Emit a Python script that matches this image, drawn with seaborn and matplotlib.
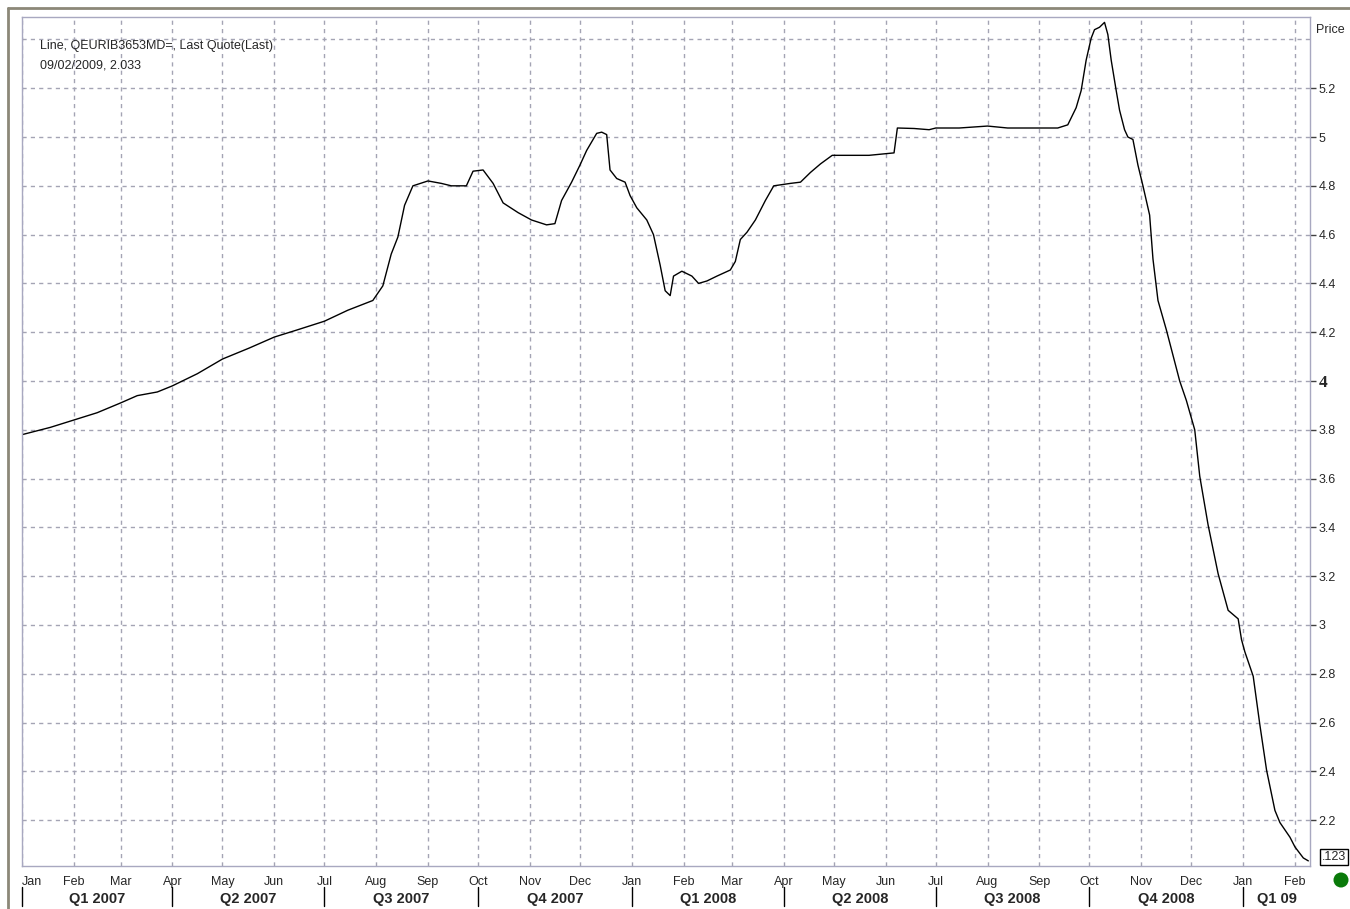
import matplotlib
matplotlib.use("Agg")
import matplotlib.pyplot as plt
import matplotlib.dates as mdates
from matplotlib.patches import Ellipse
from matplotlib.lines import Line2D
import seaborn as sns
import pandas as pd
import numpy as np

dates = [
    "2007-01-01", "2007-01-18", "2007-02-01", "2007-02-15", "2007-03-01", "2007-03-11",
    "2007-03-23", "2007-04-01", "2007-04-16", "2007-05-01", "2007-05-17", "2007-06-01",
    "2007-06-15", "2007-07-01", "2007-07-15", "2007-07-30", "2007-08-05", "2007-08-10",
    "2007-08-14", "2007-08-18", "2007-08-23", "2007-09-01", "2007-09-09", "2007-09-15",
    "2007-09-24", "2007-09-28", "2007-10-04", "2007-10-10", "2007-10-16", "2007-10-25",
    "2007-11-02", "2007-11-11", "2007-11-16", "2007-11-20", "2007-11-26", "2007-12-01",
    "2007-12-05", "2007-12-11", "2007-12-14", "2007-12-17", "2007-12-19", "2007-12-23",
    "2007-12-28", "2007-12-31", "2008-01-04", "2008-01-10", "2008-01-14", "2008-01-18",
    "2008-01-21", "2008-01-24", "2008-01-26", "2008-01-31", "2008-02-06", "2008-02-10",
    "2008-02-15", "2008-02-21", "2008-02-29", "2008-03-03", "2008-03-06", "2008-03-10",
    "2008-03-15", "2008-03-21", "2008-03-26", "2008-04-05", "2008-04-11", "2008-04-17",
    "2008-04-23", "2008-04-30", "2008-05-10", "2008-05-22", "2008-06-06", "2008-06-08",
    "2008-06-18", "2008-06-27", "2008-07-01", "2008-07-15", "2008-08-01", "2008-08-13",
    "2008-09-01", "2008-09-12", "2008-09-18", "2008-09-23", "2008-09-26", "2008-09-29",
    "2008-10-02", "2008-10-04", "2008-10-07", "2008-10-10", "2008-10-12", "2008-10-14",
    "2008-10-17", "2008-10-19", "2008-10-22", "2008-10-24", "2008-10-27", "2008-10-30",
    "2008-11-02", "2008-11-06", "2008-11-08", "2008-11-11", "2008-11-16", "2008-11-24",
    "2008-11-28", "2008-12-03", "2008-12-06", "2008-12-11", "2008-12-17", "2008-12-23",
    "2008-12-29", "2008-12-31", "2009-01-02", "2009-01-07", "2009-01-11", "2009-01-15",
    "2009-01-20", "2009-01-23", "2009-01-29", "2009-02-01", "2009-02-06", "2009-02-09",
]
prices = [
    3.78, 3.81, 3.84, 3.87, 3.91, 3.94,
    3.955, 3.98, 4.03, 4.09, 4.135, 4.18,
    4.21, 4.245, 4.29, 4.33, 4.39, 4.52,
    4.59, 4.72, 4.80, 4.82, 4.81, 4.80,
    4.80, 4.86, 4.865, 4.81, 4.73, 4.69,
    4.66, 4.64, 4.645, 4.74, 4.815, 4.885,
    4.945, 5.015, 5.02, 5.01, 4.865, 4.83,
    4.815, 4.76, 4.71, 4.66, 4.60, 4.475,
    4.37, 4.35, 4.43, 4.45, 4.43, 4.40,
    4.41, 4.43, 4.455, 4.49, 4.58, 4.61,
    4.66, 4.74, 4.80, 4.81, 4.815, 4.855,
    4.89, 4.925, 4.925, 4.925, 4.935, 5.037,
    5.035, 5.03, 5.037, 5.037, 5.045, 5.037,
    5.037, 5.037, 5.05, 5.12, 5.19, 5.315,
    5.405, 5.44, 5.45, 5.47, 5.42, 5.315,
    5.19, 5.11, 5.03, 5.0, 4.99, 4.885,
    4.80, 4.68, 4.50, 4.33, 4.21, 4.00,
    3.92, 3.80, 3.61, 3.41, 3.21, 3.06,
    3.025, 2.94, 2.89, 2.79, 2.59, 2.405,
    2.24, 2.19, 2.13, 2.09, 2.045, 2.033,
]

month_ticks = pd.date_range("2007-01-01", "2009-02-01", freq="MS")
month_labels = [d.strftime("%b") for d in month_ticks]
y_ticks = [2.2, 2.4, 2.6, 2.8, 3.0, 3.2, 3.4, 3.6, 3.8, 4.0, 4.2, 4.4, 4.6, 4.8, 5.0, 5.2, 5.4]
y_labels = ["2.2", "2.4", "2.6", "2.8", "3", "3.2", "3.4", "3.6", "3.8", "4",
            "4.2", "4.4", "4.6", "4.8", "5", "5.2", ""]
quarter_starts = ["2007-01-01", "2007-04-01", "2007-07-01", "2007-10-01", "2008-01-01",
                  "2008-04-01", "2008-07-01", "2008-10-01", "2009-01-01"]
quarter_labels = ["Q1 2007", "Q2 2007", "Q3 2007", "Q4 2007", "Q1 2008",
                  "Q2 2008", "Q3 2008", "Q4 2008", "Q1 09"]

df = pd.DataFrame({"date": pd.to_datetime(dates), "price": prices})

sns.set_theme(style="white")
plt.rcParams["font.family"] = ["Liberation Sans", "DejaVu Sans"]

fig = plt.figure(figsize=(13.5, 9.09), dpi=100)
W, H = 1350, 909
ax = fig.add_axes([22 / W, 1 - 866 / H, (1310 - 22) / W, (866 - 17) / H])

sns.lineplot(data=df, x="date", y="price", color="black", linewidth=1.0, ax=ax)

xmin = pd.Timestamp("2007-01-01")
xmax = pd.Timestamp("2009-02-10")
ax.set_xlim(xmin, xmax)
ax.set_ylim(2.012, 5.492)

grid_kw = dict(color="#a4a4b4", linewidth=1.0, linestyle=(0, (3, 3)))
ax.set_xticks(month_ticks)
ax.set_xticklabels(month_labels, fontsize=9)
ax.set_yticks(y_ticks)
ax.set_yticklabels(y_labels, fontsize=9)
ax.grid(True, **grid_kw)
ax.yaxis.tick_right()
ax.tick_params(axis="y", which="both", direction="out", length=4, width=1, color="#404040", pad=2)
ax.tick_params(axis="x", which="both", direction="out", length=3, width=1, color="#707070", pad=4)
ax.yaxis.get_major_ticks()[-1].tick2line.set_visible(False)
ax.set_xlabel("")
ax.set_ylabel("")
for lab in ax.get_xticklabels()[:1]:
    lab.set_ha("left")
for lab in ax.get_yticklabels():
    if lab.get_text() == "4":
        lab.set_fontweight("bold")
        lab.set_fontfamily(["Liberation Serif"])
        lab.set_fontsize(12.5)
for s in ax.spines.values():
    s.set_color("#a8a8c0")
    s.set_linewidth(1.0)

# Legend-like header text
ax.text(40 / W, 1 - 46 / H, "Line, QEURIB3653MD=, Last Quote(Last)", transform=fig.transFigure,
        fontsize=9, va="center", ha="left")
ax.text(40 / W, 1 - 65 / H, "09/02/2009, 2.033", transform=fig.transFigure,
        fontsize=9, va="center", ha="left")

# Axis title
fig.text(1316 / W, 1 - 30 / H, "Price", fontsize=9, va="center", ha="left")

# Quarter band below month labels
trans = ax.get_xaxis_transform()
qdates = pd.to_datetime(quarter_starts)
qy = -0.039
for i, qd in enumerate(qdates):
    ax.add_line(Line2D([qd, qd], [qy + 0.014, qy - 0.008], transform=trans, color="black",
                       linewidth=1.0, clip_on=False))
    end = qdates[i + 1] if i + 1 < len(qdates) else xmax
    mid = qd + (end - qd) / 2
    ax.text(mid, qy, quarter_labels[i], transform=trans, fontsize=10.5, fontweight="bold",
            ha="center", va="center", clip_on=False)

# Last value box and status dot
fig.text(1334 / W, 1 - 857 / H, ".123", fontsize=9, ha="center", va="center",
         bbox=dict(boxstyle="square,pad=0.15", facecolor="white", edgecolor="black", linewidth=1))
fig.patches.append(Ellipse((1341 / W, 1 - 880 / H), 15 / W, 15 / H, transform=fig.transFigure,
                           facecolor="#0a7a0a", edgecolor="none"))

# Outer frame lines
fig.add_artist(Line2D([8 / W, 8 / W], [0, 1 - 8 / H], transform=fig.transFigure,
                      color="#8c8878", linewidth=2))
fig.add_artist(Line2D([8 / W, 1], [1 - 8 / H, 1 - 8 / H], transform=fig.transFigure,
                      color="#8c8878", linewidth=2))

fig.savefig("out.png", dpi=100)
